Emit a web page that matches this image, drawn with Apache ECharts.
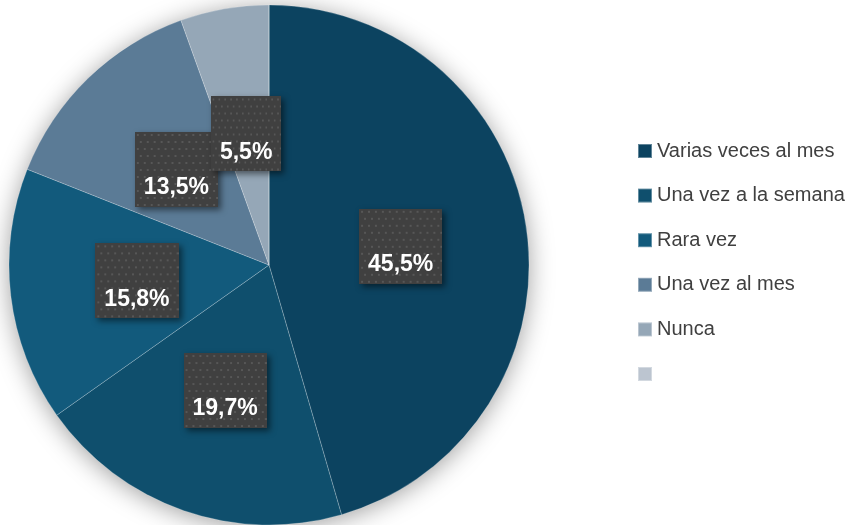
<!DOCTYPE html>
<html>
<head>
<meta charset="utf-8">
<script src="https://cdn.jsdelivr.net/npm/echarts@6/dist/echarts.min.js"></script>
<style>
  html, body { margin: 0; padding: 0; background: #ffffff; }
  #chart { width: 850px; height: 525px; }
</style>
</head>
<body>
<div id="chart"></div>
<script>
// Frecuencia de respuesta (porcentaje de encuestados)
const categories = ['Varias veces al mes', 'Una vez a la semana', 'Rara vez', 'Una vez al mes', 'Nunca', ' '];
const values = [45.5, 19.7, 15.8, 13.5, 5.5, 0];
const colors = ['#0c4360', '#0f4f6d', '#125a7c', '#5b7b96', '#95a7b7', '#bcc5d0'];

// Dotted dark tile used as the background of each data label
function dottedTile(w, h) {
  const c = document.createElement('canvas');
  c.width = w; c.height = h;
  const g = c.getContext('2d');
  g.fillStyle = '#404040';
  g.fillRect(0, 0, w, h);
  g.fillStyle = '#575757';
  for (let y = 2; y < h; y += 7) {
    const row = Math.round((y - 2) / 7);
    for (let x = (row % 2 ? 5 : 2); x < w; x += 7) {
      g.fillRect(x, y, 2, 2);
    }
  }
  return c.toDataURL();
}
const tile = dottedTile(84, 75);

const chart = echarts.init(document.getElementById('chart'), null, { renderer: 'canvas' });

const pieData = categories.map((name, i) => ({
  name: name,
  value: values[i],
  itemStyle: { color: colors[i] },
  label: { show: values[i] > 0 }
}));

chart.setOption({
  backgroundColor: '#ffffff',
  animation: false,
  legend: {
    orient: 'vertical',
    left: 637,
    top: 141,
    padding: 0,
    data: categories,
    icon: 'rect',
    itemWidth: 14,
    itemHeight: 14,
    itemGap: 24.6,
    selectedMode: false,
    textStyle: {
      fontFamily: 'Liberation Sans, Arial, sans-serif',
      fontSize: 20,
      lineHeight: 20,
      color: '#404040'
    }
  },
  series: [
    {
      // soft shadow disc behind the slices
      type: 'pie',
      silent: true,
      z: 1,
      center: [269, 265],
      radius: [0, 259],
      label: { show: false },
      labelLine: { show: false },
      data: [{ name: '_fondo', value: 1 }],
      itemStyle: {
        color: '#ffffff',
        shadowBlur: 26,
        shadowColor: 'rgba(0,0,0,0.4)',
        shadowOffsetY: 3
      }
    },
    {
      type: 'pie',
      z: 2,
      center: [269, 265],
      radius: [0, 260],
      startAngle: 90,
      clockwise: true,
      avoidLabelOverlap: false,
      stillShowZeroSum: false,
      labelLayout: { hideOverlap: false },
      itemStyle: {
        borderColor: 'rgba(255,255,255,0.35)',
        borderWidth: 0.6
      },
      label: {
        position: 'inside',
        formatter: p => '{s| }\n{v|' + p.value.toFixed(1).replace('.', ',') + '%}',
        backgroundColor: { image: tile },
        padding: [0, 9, 7, 9],
        shadowColor: 'rgba(0,0,0,0.5)',
        shadowBlur: 6,
        shadowOffsetX: 3,
        shadowOffsetY: 3,
        rich: {
          s: { fontSize: 10, lineHeight: 44, height: 44 },
          v: {
            fontFamily: 'Liberation Sans, Arial, sans-serif',
            fontWeight: 'bold',
            fontSize: 23,
            lineHeight: 24,
            color: '#ffffff'
          }
        }
      },
      labelLine: { show: false },
      emphasis: { disabled: true },
      data: pieData
    }
  ]
});
</script>
</body>
</html>
